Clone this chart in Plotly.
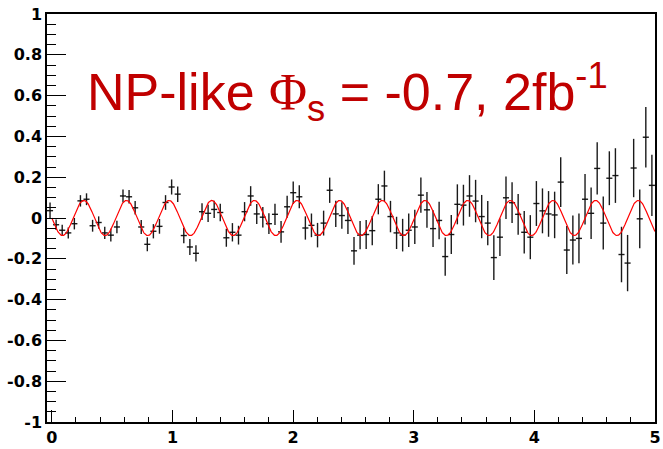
import numpy as np
import plotly.graph_objects as go

# ---- data ----
bin_lo, bin_hi, n_bins = -0.04, 5.0, 100
bin_w = (bin_hi - bin_lo) / n_bins
t_centers = [bin_lo + (i + 0.5) * bin_w for i in range(n_bins)]

asym = [0.036, -0.033, -0.060, -0.073, -0.028, 0.084, 0.092, -0.038, -0.022, -0.073,
        -0.084, -0.044, 0.108, 0.104, 0.050, -0.044, -0.129, -0.065, -0.041, 0.076,
        0.152, 0.117, -0.086, -0.142, -0.173, 0.031, 0.023, 0.042, 0.027, -0.097,
        -0.070, -0.084, 0.031, 0.108, 0.020, 0.004, -0.028, 0.018, -0.068, 0.055,
        0.124, 0.104, -0.049, -0.036, -0.084, -0.025, 0.136, 0.020, 0.012, -0.012,
        -0.161, -0.084, -0.081, -0.062, 0.092, 0.157, 0.007, -0.073, -0.084, -0.060,
        -0.044, 0.112, 0.040, -0.052, -0.012, -0.189, -0.081, 0.067, 0.063, 0.108,
        0.083, 0.007, -0.025, -0.194, -0.094, 0.099, 0.075, 0.018, -0.070, -0.094,
        0.071, 0.035, 0.020, 0.015, 0.176, -0.157, -0.108, -0.100, 0.092, 0.023,
        0.243, -0.025, 0.195, 0.208, -0.179, -0.221, 0.245, -0.004, 0.396, 0.160]

asym_err = [0.040, 0.026, 0.027, 0.027, 0.028, 0.028, 0.029, 0.029, 0.030, 0.030,
            0.031, 0.031, 0.032, 0.033, 0.033, 0.034, 0.034, 0.035, 0.036, 0.036,
            0.037, 0.038, 0.038, 0.039, 0.040, 0.041, 0.042, 0.042, 0.043, 0.044,
            0.045, 0.046, 0.047, 0.048, 0.049, 0.050, 0.051, 0.052, 0.053, 0.054,
            0.055, 0.056, 0.057, 0.058, 0.060, 0.061, 0.062, 0.064, 0.065, 0.066,
            0.068, 0.069, 0.071, 0.072, 0.074, 0.075, 0.077, 0.079, 0.080, 0.082,
            0.084, 0.086, 0.088, 0.090, 0.092, 0.094, 0.096, 0.098, 0.100, 0.102,
            0.104, 0.106, 0.108, 0.110, 0.092, 0.104, 0.100, 0.100, 0.104, 0.108,
            0.110, 0.110, 0.112, 0.114, 0.122, 0.118, 0.120, 0.122, 0.124, 0.126,
            0.128, 0.130, 0.132, 0.134, 0.136, 0.138, 0.143, 0.144, 0.148, 0.150]

# fitted oscillation  A(t) = -amp * sin(omega * t)  (parameters)
fit_amp = 0.086
fit_omega = 17.77
fit_t_lo, fit_t_hi = 0.0, 5.0

x_ticks = [0, 1, 2, 3, 4, 5]
x_ticktext = ["0", "1", "2", "3", "4", "5"]
y_ticks = [-1, -0.8, -0.6, -0.4, -0.2, 0, 0.2, 0.4, 0.6, 0.8, 1]
y_ticktext = ["-1", "-0.8", "-0.6", "-0.4", "-0.2", "0", "0.2", "0.4", "0.6", "0.8", "1"]

# ---- figure ----
fig = go.Figure()

fig.add_trace(go.Scatter(
    x=t_centers, y=asym, mode="markers",
    marker=dict(size=1, color="black"),
    error_x=dict(type="data", array=[bin_w / 2] * n_bins, width=0, thickness=1.4, color="#1a1a1a"),
    error_y=dict(type="data", array=asym_err, width=0, thickness=1.4, color="#1a1a1a"),
    showlegend=False, hoverinfo="skip", cliponaxis=False,
))

t_fit = np.linspace(fit_t_lo, fit_t_hi, 1500)
y_fit = -fit_amp * np.sin(fit_omega * t_fit)
fig.add_trace(go.Scatter(x=t_fit, y=y_fit, mode="lines",
                         line=dict(color="#ff0000", width=1.2),
                         showlegend=False, hoverinfo="skip"))

tick_font = dict(family="DejaVu Sans, Arial, sans-serif", size=16, color="black", weight="bold")

fig.update_layout(
    width=663, height=449,
    margin=dict(l=47, r=2, t=14, b=20),
    paper_bgcolor="white", plot_bgcolor="white",
    xaxis=dict(range=[bin_lo, bin_hi + 0.0005], tickvals=x_ticks, ticktext=x_ticktext,
               ticks="inside", ticklen=12, tickwidth=1, tickcolor="black",
               minor=dict(dtick=0.2, tick0=0, ticks="inside", ticklen=5, tickcolor="black", tickwidth=1),
               showline=True, linecolor="black", linewidth=1.5, mirror=True,
               showgrid=False, zeroline=False, tickfont=tick_font,
               ticklabeloverflow="allow", ticklabelstandoff=0),
    yaxis=dict(range=[-1, 1], tickvals=y_ticks, ticktext=y_ticktext,
               ticks="inside", ticklen=19, tickwidth=1, tickcolor="black",
               minor=dict(dtick=0.05, tick0=0, ticks="inside", ticklen=9, tickcolor="black", tickwidth=1),
               showline=True, linecolor="black", linewidth=1.5, mirror=True,
               showgrid=False, zeroline=False, tickfont=tick_font,
               ticklabeloverflow="allow"),
)

fig.add_annotation(
    xref="paper", yref="paper", x=0.062, y=0.808, xanchor="left", yanchor="middle",
    text='NP-like <span style="font-family:Liberation Serif, Times New Roman, serif">Φ</span><sub>s</sub> = -0.7, 2fb<sup>-1</sup>',
    showarrow=False,
    font=dict(family="Liberation Sans, Arial, sans-serif", size=52, color="#c00000"),
)

fig.write_html("out.html")
